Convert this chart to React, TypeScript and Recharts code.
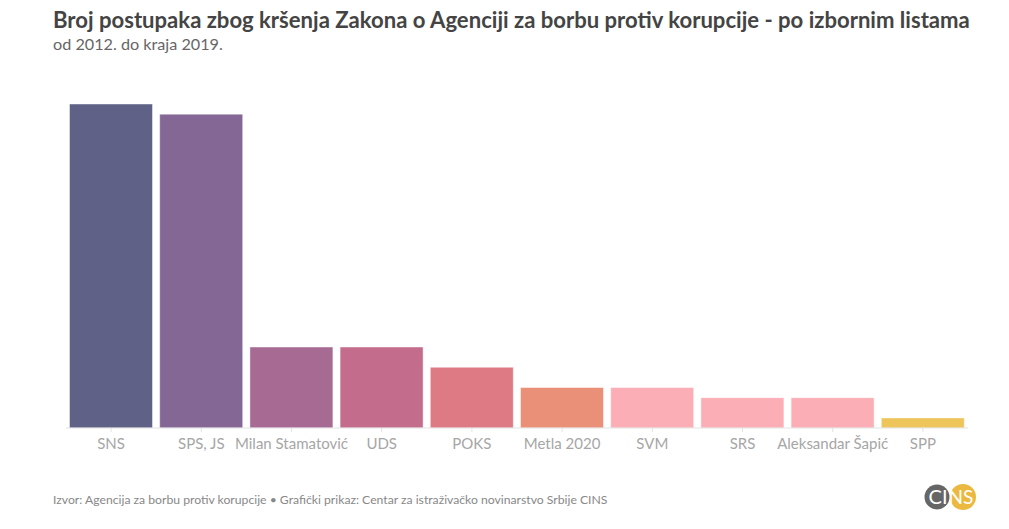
import React from 'react';
import { BarChart, Bar, XAxis, YAxis, Cell } from 'recharts';

// izborne liste i broj postupaka (2012-2019)
const lists = [
  'SNS',
  'SPS, JS',
  'Milan Stamatović',
  'UDS',
  'POKS',
  'Metla 2020',
  'SVM',
  'SRS',
  'Aleksandar Šapić',
  'SPP',
];
const cases = [32, 31, 8, 8, 6, 4, 4, 3, 3, 1];

const barColors = [
  '#5f6186',
  '#846794',
  '#a66a93',
  '#c46c8c',
  '#dd7a84',
  '#ea9079',
  '#fbaeb6',
  '#fbaeb6',
  '#fbaeb6',
  '#edc55a',
];

const data = lists.map((name, i) => ({ name, value: cases[i] }));

const FONT = 'Lato, "Noto Sans", sans-serif';

const CinsLogo = () => (
  <svg width={70} height={40} style={{ position: 'absolute', left: 915, top: 477 }}>
    <circle cx={22} cy={20} r={12.5} fill="#666666" />
    <circle cx={48} cy={20} r={13} fill="#ecb940" />
    <text x={23} y={27} textAnchor="middle" fill="#fff" fontSize={20} fontWeight={400} fontFamily={FONT}>
      CI
    </text>
    <text x={46} y={27} textAnchor="middle" fill="#fff" fontSize={19} fontWeight={400} fontFamily={FONT}>
      NS
    </text>
  </svg>
);

export default function App() {
  return (
    <div
      style={{
        position: 'fixed',
        left: 0,
        top: 0,
        width: 1009,
        height: 529,
        background: '#fff',
        fontFamily: FONT,
        overflow: 'hidden',
      }}
    >
      <div
        style={{
          position: 'absolute',
          left: 53,
          top: 6,
          fontSize: 22.1,
          fontWeight: 700,
          color: '#444',
          whiteSpace: 'nowrap',
        }}
      >
        Broj postupaka zbog kršenja Zakona o Agenciji za borbu protiv korupcije - po izbornim listama
      </div>
      <div
        style={{
          position: 'absolute',
          left: 53,
          top: 34,
          fontSize: 16.2,
          color: '#666',
          whiteSpace: 'nowrap',
        }}
      >
        od 2012. do kraja 2019.
      </div>

      <div style={{ position: 'absolute', left: 0, top: 0 }}>
        <BarChart
          width={1009}
          height={470}
          data={data}
          margin={{ top: 104, right: 41, left: 66, bottom: 12 }}
          barCategoryGap={3.5}
        >
          <YAxis hide domain={[0, 32]} />
          <XAxis
            dataKey="name"
            height={30}
            interval={0}
            tickSize={4}
            tickMargin={6}
            axisLine={{ stroke: '#e3e3e3' }}
            tickLine={{ stroke: '#e3e3e3' }}
            tick={{ fill: '#a6a6a6', fontSize: 15, fontFamily: FONT }}
          />
          <Bar dataKey="value" isAnimationActive={false} stroke="#ffffff" strokeOpacity={0.45} strokeWidth={1}>
            {data.map((d, i) => (
              <Cell key={d.name} fill={barColors[i]} />
            ))}
          </Bar>
        </BarChart>
      </div>

      <div
        style={{
          position: 'absolute',
          left: 53,
          top: 492,
          fontSize: 12.2,
          color: '#888',
          whiteSpace: 'nowrap',
        }}
      >
        Izvor: Agencija za borbu protiv korupcije • Grafički prikaz: Centar za istraživačko novinarstvo Srbije CINS
      </div>
      <CinsLogo />
    </div>
  );
}
